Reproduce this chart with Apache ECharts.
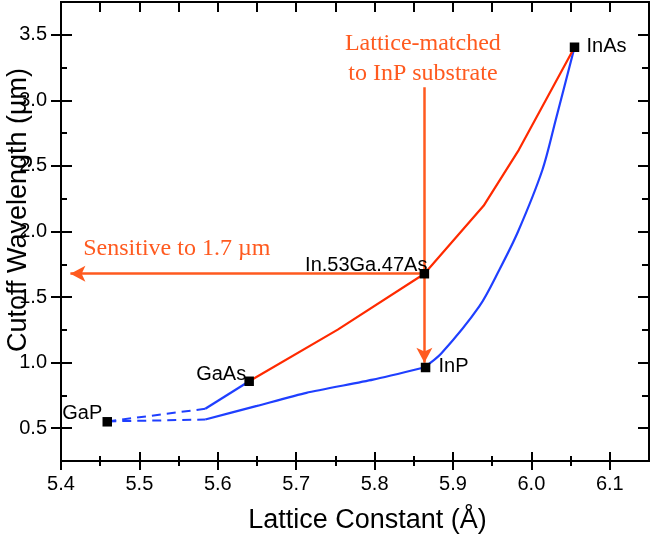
<!DOCTYPE html>
<html>
<head>
<meta charset="utf-8">
<script src="https://cdn.jsdelivr.net/npm/echarts@6/dist/echarts.min.js"></script>
<style>
html,body{margin:0;padding:0;background:#fff;}
#chart{width:651px;height:537px;}
</style>
</head>
<body>
<div id="chart"></div>
<script>
// ---- data ----
const xMajorTicks = [5.4, 5.5, 5.6, 5.7, 5.8, 5.9, 6.0, 6.1];
const xMinorTicks = [5.45, 5.55, 5.65, 5.75, 5.85, 5.95, 6.05];
const yMajorTicks = [0.5, 1.0, 1.5, 2.0, 2.5, 3.0, 3.5];
const yMinorTicks = [0.75, 1.25, 1.75, 2.25, 2.75, 3.25];

const materialNames = ['GaP', 'GaAs', 'In.53Ga.47As', 'InP', 'InAs'];
const materialX = [5.459, 5.640, 5.8635, 5.865, 6.055];
const materialY = [0.549, 0.858, 1.678, 0.963, 3.405];

const redCurveX = [5.640, 5.753, 5.8635, 5.939, 5.984, 6.055];
const redCurveY = [0.858, 1.252, 1.678, 2.196, 2.623, 3.405];

const blueUpperX = [5.584, 5.640];
const blueUpperY = [0.648, 0.858];

const blueLowerX = [5.584, 5.65, 5.713, 5.798, 5.863];
const blueLowerY = [0.566, 0.67, 0.77, 0.87, 0.963];

const blueSteepX = [5.863, 5.885, 5.9335, 5.959, 5.983, 6.014, 6.031, 6.055];
const blueSteepY = [0.963, 1.07, 1.429, 1.707, 2.0, 2.469, 2.85, 3.405];

const dashUpperX = [5.459, 5.584];
const dashUpperY = [0.552, 0.648];
const dashLowerX = [5.459, 5.584];
const dashLowerY = [0.552, 0.566];

// arrows: [startX, startY, endX, endY]
const arrowHorizontal = [5.8635, 1.678, 5.412, 1.678];
const arrowVertical = [5.8635, 3.10, 5.8635, 1.0];

const noteTexts = ['Lattice-matched\nto InP substrate', 'Sensitive to 1.7 \u00b5m'];
const noteX = [5.8616, 5.4284];
const noteY = [3.317, 1.869];

const xTitle = 'Lattice Constant (\u00c5)';
const yTitle = 'Cutoff Wavelength (\u00b5m)';

// ---- build ----
const zip = (xs, ys) => xs.map((x, i) => [x, ys[i]]);
const fmt1 = v => Number(v).toFixed(1);
const BLACK = '#000';
const BLUE = '#1f3fff';
const RED = '#ff2a00';
const ORANGE = '#ff5a1f';
const SANS = 'Liberation Sans, Arial, Helvetica, sans-serif';
const SERIF = 'Liberation Serif, Times New Roman, serif';

function xAx(position, ticks, inside, length, extra) {
  return Object.assign({
    type: 'value', min: 5.4, max: 6.15, position: position,
    axisLine: {show: true, onZero: false, lineStyle: {color: BLACK, width: 2}},
    splitLine: {show: false},
    axisLabel: {show: false},
    axisTick: {show: true, inside: inside, length: length, customValues: ticks,
               lineStyle: {color: BLACK, width: 2}}
  }, extra || {});
}
function yAx(position, ticks, inside, length, extra) {
  return Object.assign({
    type: 'value', min: 0.25, max: 3.75, position: position,
    axisLine: {show: true, onZero: false, lineStyle: {color: BLACK, width: 2}},
    splitLine: {show: false},
    axisLabel: {show: false},
    axisTick: {show: true, inside: inside, length: length, customValues: ticks,
               lineStyle: {color: BLACK, width: 2}}
  }, extra || {});
}

const allX = xMajorTicks.concat(xMinorTicks).sort((a, b) => a - b);

const labelStyles = [
  {align: 'right', offset: [-5, -8]},
  {align: 'right', offset: [-3, -7]},
  {align: 'right', offset: [3, -8]},
  {align: 'left', offset: [13, -1]},
  {align: 'left', offset: [12, -1]}
];

const option = {
  animation: false,
  backgroundColor: '#fff',
  grid: {left: 61, right: 2, top: 2, bottom: 76, containLabel: false, outerBoundsMode: 'none'},
  graphic: [{
    type: 'text', x: 19, y: 210, rotation: Math.PI / 2, silent: true,
    style: {text: yTitle, x: 0, y: 0, align: 'center', verticalAlign: 'middle',
            fill: BLACK, font: '27px ' + SANS}
  }],
  xAxis: [
    xAx('bottom', xMajorTicks, false, 9, {
      axisLabel: {show: true, customValues: xMajorTicks, formatter: fmt1, color: BLACK,
                  fontFamily: SANS, fontSize: 20, margin: 13},
      name: xTitle, nameLocation: 'middle', nameGap: 46,
      nameTextStyle: {color: BLACK, fontFamily: SANS, fontSize: 27, padding: [0, 0, 0, 25]}
    }),
    xAx('bottom', xMajorTicks, true, 9),
    xAx('bottom', xMinorTicks, false, 5),
    xAx('bottom', xMinorTicks, true, 5),
    xAx('top', allX, true, 10)
  ],
  yAxis: [
    yAx('left', yMajorTicks, false, 10, {
      axisLabel: {show: true, customValues: yMajorTicks, formatter: fmt1, color: BLACK,
                  fontFamily: SANS, fontSize: 20, margin: 14}
    }),
    yAx('left', yMajorTicks, true, 11),
    yAx('left', yMinorTicks, true, 6),
    yAx('right', yMajorTicks, true, 11),
    yAx('right', yMinorTicks, true, 7)
  ],
  series: [
    {type: 'line', data: zip(dashUpperX, dashUpperY), symbol: 'none', z: 2,
     lineStyle: {color: BLUE, width: 2, type: [9, 6]}},
    {type: 'line', data: zip(dashLowerX, dashLowerY), symbol: 'none', z: 2,
     lineStyle: {color: BLUE, width: 2, type: [9, 6]}},
    {type: 'line', data: zip(blueUpperX, blueUpperY), symbol: 'none', z: 2,
     lineStyle: {color: BLUE, width: 2.2}},
    {type: 'line', data: zip(blueLowerX, blueLowerY), symbol: 'none', z: 2, smooth: 0.2,
     lineStyle: {color: BLUE, width: 2.2}},
    {type: 'line', data: zip(blueSteepX, blueSteepY), symbol: 'none', z: 2,
     smooth: 0.3,
     lineStyle: {color: BLUE, width: 2.2}},
    {type: 'line', data: zip(redCurveX, redCurveY), symbol: 'none', z: 2,
     lineStyle: {color: RED, width: 2.2}},
    {type: 'line', data: [], z: 3, silent: true,
     markLine: {
       silent: true, animation: false,
       symbol: ['none', 'arrow'], symbolSize: [12, 15],
       label: {show: false},
       lineStyle: {color: ORANGE, width: 2.5, type: 'solid'},
       data: [
         [{coord: [arrowHorizontal[0], arrowHorizontal[1]]}, {coord: [arrowHorizontal[2], arrowHorizontal[3]]}],
         [{coord: [arrowVertical[0], arrowVertical[1]]}, {coord: [arrowVertical[2], arrowVertical[3]]}]
       ]
     }},
    {type: 'scatter', z: 5, symbol: 'rect', symbolSize: 9.5, silent: true,
     itemStyle: {color: BLACK, opacity: 1},
     data: materialNames.map((n, i) => ({
       value: [materialX[i], materialY[i]],
       label: {show: true, position: 'inside', formatter: n, color: BLACK,
               fontFamily: SANS, fontSize: 20, verticalAlign: 'middle',
               align: labelStyles[i].align, offset: labelStyles[i].offset}
     }))},
    {type: 'scatter', z: 6, symbolSize: 0, silent: true,
     itemStyle: {color: 'transparent', opacity: 1},
     data: noteTexts.map((t, i) => ({
       value: [noteX[i], noteY[i]],
       label: {show: true, position: 'inside', formatter: t, color: ORANGE,
               fontFamily: SERIF, fontSize: 24, lineHeight: 30,
               align: i === 0 ? 'center' : 'left', verticalAlign: 'middle'}
     }))}
  ]
};

const chart = echarts.init(document.getElementById('chart'), null, {renderer: 'canvas'});
chart.setOption(option);
</script>
</body>
</html>
